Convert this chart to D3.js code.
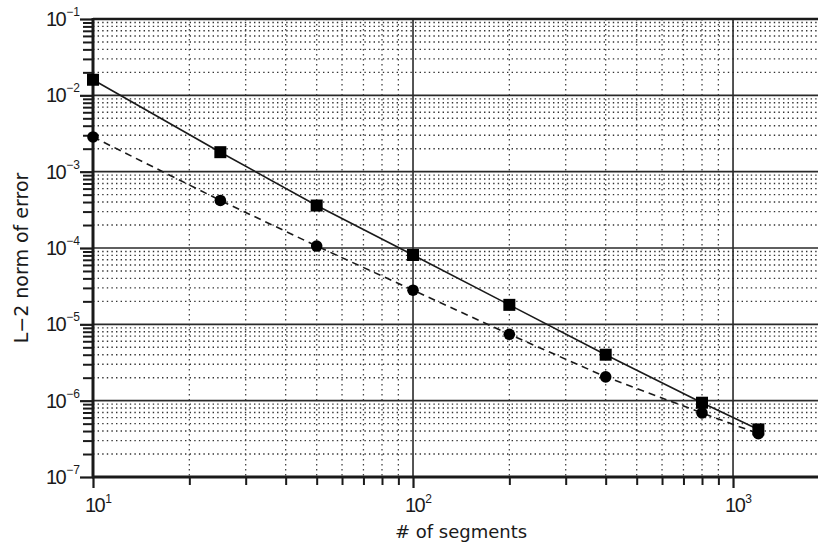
<!DOCTYPE html>
<html>
<head>
<meta charset="utf-8">
<script src="https://cdn.jsdelivr.net/npm/d3@7"></script>
<style>
  html, body { margin: 0; padding: 0; background: #fff; }
  svg { display: block; }
</style>
</head>
<body>
<svg id="chart" width="818" height="546"></svg>
<script>
// ---- data ----
const segments = [10, 25, 50, 100, 200, 400, 800, 1200];
const errSquare = [1.6e-2, 1.8e-3, 3.6e-4, 8.1e-5, 1.8e-5, 4.0e-6, 9.4e-7, 4.2e-7];
const errCircle = [2.85e-3, 4.2e-4, 1.06e-4, 2.8e-5, 7.4e-6, 2.05e-6, 6.9e-7, 3.7e-7];
const xDomain = [10, 1843];
const yDomain = [1e-7, 1e-1];
const xDecades = [1, 2, 3];          // exponents labelled on x
const yDecades = [-1, -2, -3, -4, -5, -6, -7];
const xLabel = "# of segments";
const yLabel = "L\u22122 norm of error";

(function () {
// ---- layout ----
const svg = d3.select("#chart");
const pL = 93, pR = 818, pT = 19, pB = 477;
const x = d3.scaleLog().domain(xDomain).range([pL, pR]);
const y = d3.scaleLog().domain(yDomain).range([pB, pT]);
const ink = "#1a1a1a";

function logTicks(lo, hi) {
  const out = [];
  for (let e = Math.floor(Math.log10(lo)); e <= Math.ceil(Math.log10(hi)); e++) {
    for (let m = 1; m <= 9; m++) {
      const v = m * Math.pow(10, e);
      if (v >= lo * 0.9999 && v <= hi * 1.0001) out.push(v);
    }
  }
  return out;
}
const isMajor = v => Math.abs(Math.log10(v) - Math.round(Math.log10(v))) < 1e-9;
const xAll = logTicks(xDomain[0], xDomain[1]);
const yAll = logTicks(yDomain[0], yDomain[1]);
const xMinor = xAll.filter(v => !isMajor(v));
const xMajor = xAll.filter(isMajor);
const yMinor = yAll.filter(v => !isMajor(v));
const yMajor = yAll.filter(isMajor);

// ---- grid ----
const grid = svg.append("g");
grid.append("g").selectAll("line").data(yMinor).join("line")
  .attr("x1", pL).attr("x2", pR)
  .attr("y1", d => y(d)).attr("y2", d => y(d))
  .attr("stroke", "#333").attr("stroke-width", 1.4)
  .attr("stroke-dasharray", "1.4,3.2");
grid.append("g").selectAll("line").data(xMinor).join("line")
  .attr("y1", pT).attr("y2", pB)
  .attr("x1", d => x(d)).attr("x2", d => x(d))
  .attr("stroke", "#444").attr("stroke-width", 1.3)
  .attr("stroke-dasharray", "1.4,3.6");
grid.append("g").selectAll("line").data(yMajor.filter(v => v > yDomain[0] && v < yDomain[1])).join("line")
  .attr("x1", pL).attr("x2", pR)
  .attr("y1", d => y(d)).attr("y2", d => y(d))
  .attr("stroke", "#2a2a2a").attr("stroke-width", 1.6);
grid.append("g").selectAll("line").data(xMajor.filter(v => v > xDomain[0])).join("line")
  .attr("y1", pT).attr("y2", pB)
  .attr("x1", d => x(d)).attr("x2", d => x(d))
  .attr("stroke", "#2a2a2a").attr("stroke-width", 1.6);

// ---- axes ----
function styleAxis(g, w) {
  g.select(".domain").remove();
  g.selectAll("line").attr("stroke", ink).attr("stroke-width", w);
  g.selectAll("text").remove();
}
svg.append("g").attr("transform", `translate(0,${pB})`)
  .call(d3.axisBottom(x).tickValues(xMinor).tickSize(8))
  .call(g => styleAxis(g, 2));
svg.append("g").attr("transform", `translate(0,${pB})`)
  .call(d3.axisBottom(x).tickValues(xMajor).tickSize(11))
  .call(g => styleAxis(g, 2.2));
svg.append("g").attr("transform", `translate(${pL},0)`)
  .call(d3.axisLeft(y).tickValues(yMinor).tickSize(10))
  .call(g => styleAxis(g, 2));
svg.append("g").attr("transform", `translate(${pL},0)`)
  .call(d3.axisLeft(y).tickValues(yMajor).tickSize(13))
  .call(g => styleAxis(g, 2.2));

// frame lines
svg.append("line").attr("x1", pL).attr("x2", pR).attr("y1", pT).attr("y2", pT)
  .attr("stroke", ink).attr("stroke-width", 2.4);
svg.append("line").attr("x1", pL - 1).attr("x2", pR).attr("y1", pB).attr("y2", pB)
  .attr("stroke", ink).attr("stroke-width", 3);
svg.append("line").attr("x1", pL).attr("x2", pL).attr("y1", pT - 1).attr("y2", pB + 1)
  .attr("stroke", ink).attr("stroke-width", 3);

// ---- tick labels ----
const tickFont = "'Liberation Sans', Arial, sans-serif";
const xl = svg.append("g").attr("font-family", tickFont).attr("fill", ink);
xDecades.forEach(e => {
  const t = xl.append("text")
    .attr("x", x(Math.pow(10, e)) - 8).attr("y", 512)
    .attr("font-size", 20);
  t.append("tspan").text("10").attr("letter-spacing", -1.5);
  t.append("tspan").text(String(e)).attr("font-size", 12).attr("dy", -9).attr("dx", 1);
});
const yl = svg.append("g").attr("font-family", tickFont).attr("fill", ink);
yDecades.forEach(e => {
  const t = yl.append("text")
    .attr("x", 46).attr("y", y(Math.pow(10, e)) + 7)
    .attr("font-size", 20);
  t.append("tspan").text("10").attr("letter-spacing", -1.5);
  t.append("tspan").text("\u2212" + Math.abs(e)).attr("font-size", 12).attr("dy", -10).attr("dx", 1);
});

// ---- axis titles ----
svg.append("text")
  .attr("x", 461).attr("y", 538)
  .attr("text-anchor", "middle")
  .attr("font-family", "'DejaVu Sans', sans-serif").attr("font-size", 18)
  .attr("fill", ink).text(xLabel);
svg.append("text")
  .attr("transform", "translate(28,258) rotate(-90)")
  .attr("text-anchor", "middle")
  .attr("font-family", "'DejaVu Sans', sans-serif").attr("font-size", 19)
  .attr("fill", ink).text(yLabel);

// ---- series ----
const lineGen = d3.line().x(d => x(d[0])).y(d => y(d[1]));
const sq = segments.map((s, i) => [s, errSquare[i]]);
const ci = segments.map((s, i) => [s, errCircle[i]]);

svg.append("path").datum(ci).attr("d", lineGen)
  .attr("fill", "none").attr("stroke", ink).attr("stroke-width", 1.6)
  .attr("stroke-dasharray", "7,5");
svg.append("path").datum(sq).attr("d", lineGen)
  .attr("fill", "none").attr("stroke", ink).attr("stroke-width", 1.6);

const sz = 12;
svg.append("g").selectAll("rect").data(sq).join("rect")
  .attr("x", d => x(d[0]) - sz / 2).attr("y", d => y(d[1]) - sz / 2)
  .attr("width", sz).attr("height", sz).attr("fill", "#000");
svg.append("g").selectAll("circle").data(ci).join("circle")
  .attr("cx", d => x(d[0])).attr("cy", d => y(d[1])).attr("r", 5.8)
  .attr("fill", "#000");
})();
</script>
</body>
</html>
